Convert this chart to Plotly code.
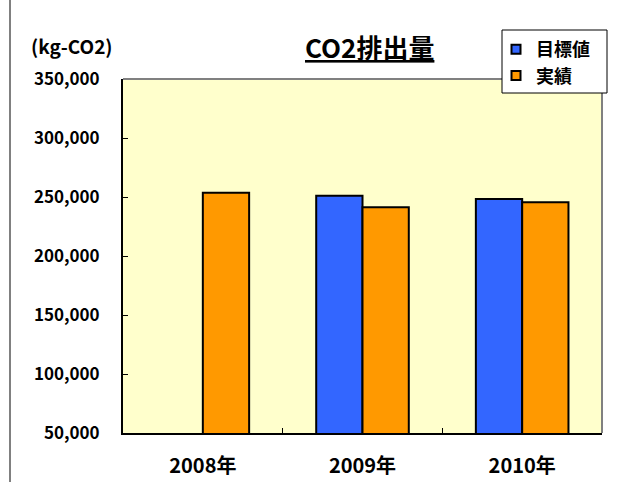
import plotly.graph_objects as go

categories = ["2008年", "2009年", "2010年"]
target = [None, 251000, 248300]
actual = [253600, 241300, 245500]
series_names = ["目標値", "実績"]
series_colors = ["#3366FF", "#FF9900"]
y_ticks = [50000, 100000, 150000, 200000, 250000, 300000, 350000]
y_tick_labels = ["50,000", "100,000", "150,000", "200,000", "250,000", "300,000", "350,000"]

FONT = "Noto Sans CJK JP"
L, R, T, B = 123, 36, 79, 49
W, H = 638, 482
PW, PH = W - L - R, H - T - B

def px(x):
    return (x - L) / PW

def py(y):
    return (H - B - y) / PH

fig = go.Figure()
for name, vals, col in zip(series_names, [target, actual], series_colors):
    fig.add_trace(go.Bar(x=categories, y=vals, name=name, showlegend=False,
                         marker=dict(color=col, line=dict(color="black", width=2))))
for name, col in zip(series_names, series_colors):
    fig.add_trace(go.Scatter(x=[None], y=[None], name=name, mode="markers",
                             marker=dict(symbol="square", size=9, color=col,
                                         line=dict(color="black", width=2))))

fig.update_layout(
    width=W, height=H,
    margin=dict(l=L, r=R, t=T, b=B, autoexpand=False),
    paper_bgcolor="white", plot_bgcolor="#FFFFCC",
    barmode="group", bargap=0.42, bargroupgap=0,
    font=dict(family=FONT, color="black"),
    showlegend=True,
    legend=dict(x=px(496), y=py(31), xanchor="left", yanchor="top",
                bgcolor="rgba(0,0,0,0)", borderwidth=0,
                font=dict(family=FONT, size=18, weight="bold", color="black"),
                itemwidth=30, tracegroupgap=0),
)

fig.update_xaxes(
    showline=True, linecolor="black", linewidth=2, mirror=False,
    ticks="inside", tickson="boundaries", ticklen=5, tickcolor="black",
    tickfont=dict(family=FONT, size=20, weight="bold"),
    ticklabelstandoff=14, showgrid=False, automargin=False,
)
fig.update_yaxes(
    range=[50000, 350000], tickvals=y_ticks, ticktext=y_tick_labels,
    showline=True, linecolor="black", linewidth=2,
    ticks="inside", ticklen=5, tickcolor="black",
    tickfont=dict(family=FONT, size=17, weight="bold"),
    ticklabelstandoff=18, showgrid=False, zeroline=False, automargin=False,
)

# top and right shadow borders of plot area
fig.add_shape(type="line", xref="paper", yref="paper", x0=0, x1=1, y0=1, y1=1,
              line=dict(color="#808080", width=2))
fig.add_shape(type="line", xref="paper", yref="paper", x0=1, x1=1, y0=0, y1=1,
              line=dict(color="#808080", width=2))
# outer chart frame left edge
fig.add_shape(type="line", xref="paper", yref="paper",
              x0=px(10), x1=px(10), y0=py(H), y1=py(-40),
              line=dict(color="#808080", width=2))
# legend box
fig.add_shape(type="rect", xref="paper", yref="paper",
              x0=px(502), x1=px(607), y0=py(93), y1=py(30),
              fillcolor="white", line=dict(color="black", width=1), layer="above")

fig.add_annotation(text="<u>CO2排出量</u>", xref="paper", yref="paper",
                   x=px(369), y=py(47),
                   xanchor="center", yanchor="middle", showarrow=False,
                   font=dict(family=FONT, size=26, weight="bold", color="black"))
fig.add_annotation(text="(kg-CO2)", xref="paper", yref="paper",
                   x=px(29), y=py(45),
                   xanchor="left", yanchor="middle", showarrow=False,
                   font=dict(family=FONT, size=19, weight="bold", color="black"))

fig.write_html("out.html", config={"displayModeBar": False},
               post_script="document.body.style.margin='0';")
